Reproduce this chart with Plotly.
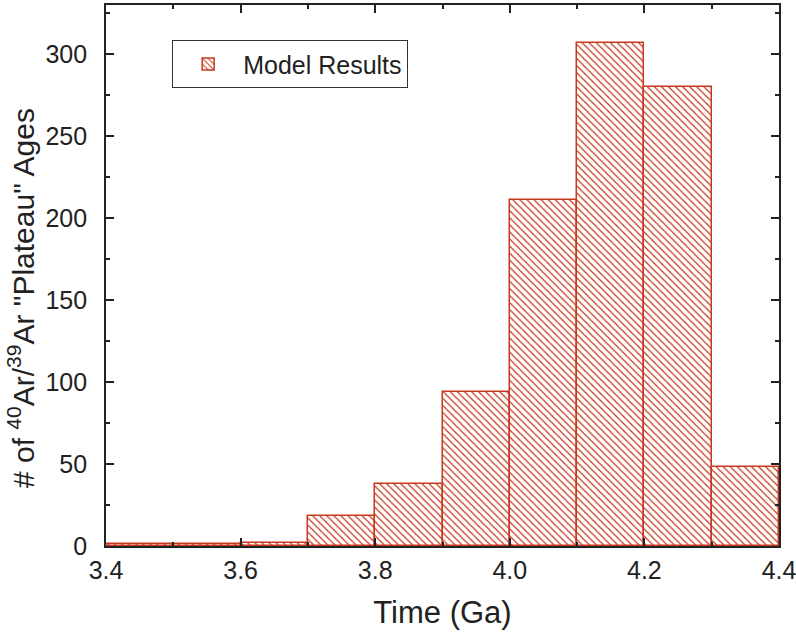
import plotly.graph_objects as go

bin_left = [3.4, 3.5, 3.6, 3.7, 3.8, 3.9, 4.0, 4.1, 4.2, 4.3]
counts = [1, 1, 2, 18, 38, 94, 211, 307, 280, 48]
bin_width = 0.1
centers = [b + bin_width / 2 for b in bin_left]
x_ticks = [3.4, 3.6, 3.8, 4.0, 4.2, 4.4]
x_tick_labels = ["3.4", "3.6", "3.8", "4.0", "4.2", "4.4"]
y_ticks = [0, 50, 100, 150, 200, 250, 300]

red = "#c8381e"
ink = "#222222"
fig = go.Figure()
fig.add_trace(go.Bar(
    x=centers, y=counts, width=[bin_width] * len(counts),
    name="Model Results",
    marker=dict(color="white",
                line=dict(color=red, width=1.5),
                pattern=dict(shape="\\", fgcolor=red, bgcolor="white", size=5, solidity=0.25)),
    showlegend=True,
))

font = "Liberation Sans, Arial, sans-serif"
L, R, T, B = 106, 17, 5, 87
W, H = 796, 633
plot_w, plot_h = W - L - R, H - T - B

fig.update_layout(
    template="none",
    width=W, height=H,
    margin=dict(l=L, r=R, t=T, b=B),
    plot_bgcolor="white", paper_bgcolor="white",
    font=dict(family=font, size=25, color=ink),
    bargap=0,
    showlegend=True,
    legend=dict(x=0.098, y=0.935, xanchor="left", yanchor="top",
                bordercolor="#333", borderwidth=1.2, bgcolor="white",
                itemwidth=60,
                font=dict(size=25)),
    xaxis=dict(range=[3.4, 4.4], tickvals=x_ticks, ticktext=x_tick_labels,
               ticks="inside", ticklen=8, tickwidth=1.5, tickcolor=ink,
               minor=dict(ticks="inside", ticklen=4, tickwidth=1.5, tickcolor=ink, dtick=0.1),
               showline=True, linecolor=ink, linewidth=1.8, mirror="ticks",
               showgrid=False, zeroline=False, automargin=False,
               tickfont=dict(size=25), ticklabelstandoff=1, ticklabeloverflow="allow",
               title=dict(text="Time (Ga)", font=dict(size=31), standoff=18)),
    yaxis=dict(range=[0, 330], tickvals=y_ticks,
               ticks="inside", ticklen=8, tickwidth=1.5, tickcolor=ink,
               minor=dict(ticks="inside", ticklen=4, tickwidth=1.5, tickcolor=ink, dtick=25),
               showline=True, linecolor=ink, linewidth=1.8, mirror="ticks",
               showgrid=False, zeroline=False, automargin=False,
               tickfont=dict(size=25), ticklabelstandoff=12),
)
fig.add_annotation(
    text='# of <sup>40</sup>Ar/<sup>39</sup>Ar "Plateau" Ages',
    textangle=-90, xref="paper", yref="paper",
    x=-(L - 21) / plot_w, y=(H - B - 298) / plot_h,
    xanchor="center", yanchor="middle", showarrow=False,
    font=dict(size=30, color=ink, family=font),
)
fig.write_html("out.html",
               config={"displayModeBar": False},
               post_script="document.body.style.margin='0';document.body.style.padding='0';")
